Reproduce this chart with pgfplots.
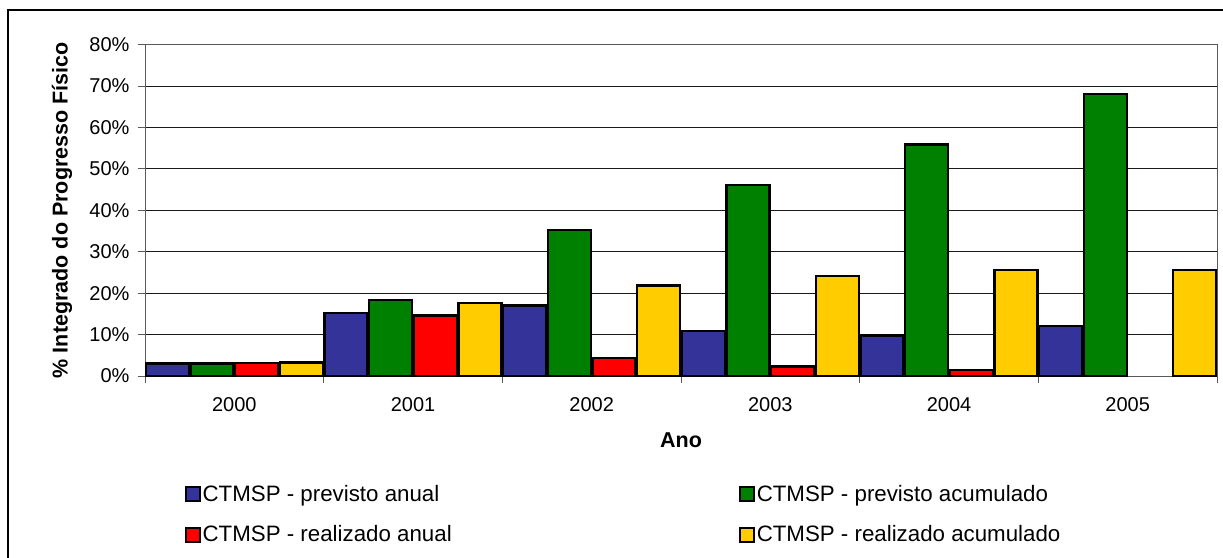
\documentclass[border=0pt]{standalone}
\usepackage{pgfplots}
\pgfplotsset{compat=1.18}
\usepackage{fontspec}
\setmainfont{Liberation Sans}
\definecolor{cblue}{HTML}{333399}
\definecolor{cgreen}{HTML}{008000}
\definecolor{cred}{HTML}{FF0000}
\definecolor{cyell}{HTML}{FFCC00}
\begin{document}
\begin{tikzpicture}
\useasboundingbox (0,0) rectangle (1223pt,557pt);
\fill[white] (0,0) rectangle (1223pt,557pt);
\draw[black, line width=1.5pt] (8pt,-5pt) -- (8pt,547pt) -- (1230pt,547pt);
\begin{axis}[
  at={(145pt,181pt)}, anchor=south west,
  x=178.67pt, y=4.144pt,
  xmin=-0.5, xmax=5.5, ymin=0, ymax=80,
  ybar=1.7pt, bar width=43pt,
  xtick={0,1,2,3,4,5},
  xticklabels={2000,2001,2002,2003,2004,2005},
  major x tick style={draw=none},
  minor xtick={-0.5,0.5,1.5,2.5,3.5,4.5,5.5},
  minor tick length=7pt,
  ytick={0,10,...,80},
  yticklabel={\pgfmathprintnumber{\tick}\%},
  major tick length=7pt,
  tick align=outside,
  tick style={gray!70!black, line width=0.8pt},
  xtick pos=bottom, ytick pos=left,
  ymajorgrids,
  major grid style={black!90, line width=0.8pt},
  axis line style={gray!70!black, line width=1pt},
  /pgf/number format/assume math mode=true,
  ticklabel style={font=\fontsize{20}{24}\selectfont},
  xticklabel style={yshift=-11pt},
  yticklabel style={xshift=-5pt},
  xlabel={\textbf{Ano}},
  ylabel={\textbf{\% Integrado do Progresso Físico}},
  every axis x label/.style={at={(axis description cs:0.5,-0.1946)}, anchor=center, font=\fontsize{21.5}{25}\selectfont},
  every axis y label/.style={at={(axis description cs:-0.0774,0.5)}, anchor=center, rotate=90, font=\fontsize{21.5}{25}\selectfont},
  legend columns=2,
  legend style={at={(axis description cs:0.034,-0.318)}, anchor=north west, draw=none, fill=none,
    font=\fontsize{22.3}{26}\selectfont, row sep=18.5pt,
    /tikz/every even column/.append style={column sep=285pt},
    cells={anchor=west}},
  legend image code/.code={\draw[#1, draw=black, line width=2pt] (-3pt,-7pt) rectangle (11pt,7pt);},
  every axis plot post/.append style={draw=black, line width=2.4pt},
]
\addplot[fill=cblue] coordinates {(0,3.0) (1,15.2) (2,17.0) (3,10.9) (4,9.8) (5,12.1)};
\addplot[fill=cgreen] coordinates {(0,3.0) (1,18.3) (2,35.2) (3,46.1) (4,55.9) (5,68.0)};
\addplot[fill=cred] coordinates {(0,3.2) (1,14.6) (2,4.3) (3,2.3) (4,1.4)};
\addplot[fill=cyell] coordinates {(0,3.3) (1,17.6) (2,21.8) (3,24.2) (4,25.6) (5,25.6)};
\legend{CTMSP - previsto anual, CTMSP - previsto acumulado, CTMSP - realizado anual, CTMSP - realizado acumulado}
\end{axis}
\end{tikzpicture}
\end{document}
